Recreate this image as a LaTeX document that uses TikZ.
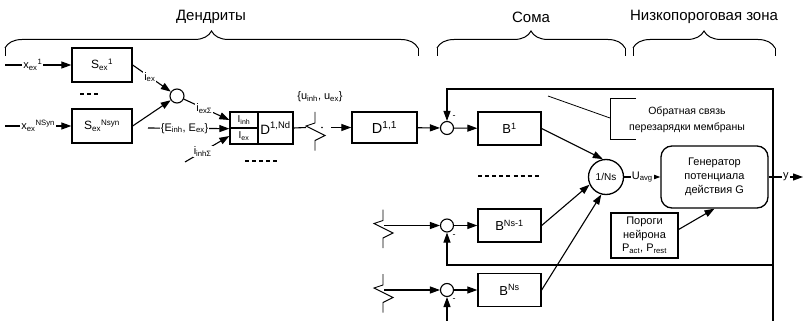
\documentclass[tikz,border=0pt]{standalone}
\usepackage{fontspec}
\setmainfont{Liberation Sans}
\usetikzlibrary{arrows.meta,decorations.pathreplacing}

\begin{document}
\begin{tikzpicture}[x=1pt, y=-1pt, line width=1.1pt,
    every node/.style={font=\fontsize{11}{13}\selectfont},
    head/.style={font=\fontsize{15}{17}\selectfont},
    blk/.style={draw, line width=1.3pt, minimum width=60pt, minimum height=34pt, inner sep=0pt},
    sum/.style={draw, circle, minimum size=13pt, inner sep=0pt},
    arr/.style={-{Triangle[length=10pt, width=7pt]}},
    lbl/.style={fill=white, inner sep=1pt},
    brk/.style={line width=0.9pt},
    dots/.style={line width=2.6pt, dash pattern=on 4pt off 3.1pt}]
    \useasboundingbox (0,0) rectangle (804,321);

    % Headings and braces
    \node[head] (hdend) at (211,17) {Дендриты};
    \node[head] (hsoma) at (531,17) {Сома};
    \node[head] (hzone) at (704,17) {Низкопороговая зона};
    \foreach \xa/\xb in {5/418, 437/625, 633/775} {
        \draw[line width=1pt] (\xa,56) -- (\xa,48);
        \draw[line width=1pt] (\xb,56) -- (\xb,48);
        \draw[line width=1pt, decorate, decoration={brace, amplitude=17pt}] (\xa,48) -- (\xb,48);
    }

    % Dendrites
    \node[blk, font=\fontsize{12}{14}\selectfont] (S1) at (102,65) {S\textsubscript{ex}\textsuperscript{1}};
    \node[blk, font=\fontsize{12}{14}\selectfont] (SN) at (102,126) {S\textsubscript{ex}\textsuperscript{Nsyn}};
    \node[sum, minimum size=14pt] (dsum) at (177,96) {};
    \node[draw, line width=1.3pt, minimum width=28pt, minimum height=16pt, inner sep=0pt,
        font=\fontsize{10}{12}\selectfont] (Iinh) at (244,120) {I\textsubscript{inh}};
    \node[draw, line width=1.3pt, minimum width=28pt, minimum height=16pt, inner sep=0pt,
        font=\fontsize{10}{12}\selectfont] (Iex) at (244,136) {I\textsubscript{ex}};
    \node[draw, line width=1.3pt, minimum width=35pt, minimum height=32pt, inner sep=0pt,
        font=\fontsize{13.5}{15}\selectfont] (D1N) at (275.5,128) {D\textsuperscript{1,Nd}};
    \node[blk, minimum width=65pt, minimum height=31pt, font=\fontsize{14.5}{16}\selectfont] (D11) at (384.5,127.5) {D\textsuperscript{1,1}};
    \node (ulbl) at (320,97) {\{u\textsubscript{inh}, u\textsubscript{ex}\}};

    \coordinate (in1) at (5,65);
    \coordinate (in2) at (5,126);
    \coordinate (inE) at (148,128);
    \coordinate (inI) at (185,162);
    \coordinate (brkA) at (306,127.5);
    \coordinate (brkB) at (331,127.5);

    \draw[arr] (in1) -- node[lbl, pos=0.42] {x\textsubscript{ex}\textsuperscript{1}} (S1);
    \draw[arr] (in2) -- node[lbl, pos=0.5] {x\textsubscript{ex}\textsuperscript{NSyn}} (SN);
    \draw[arr] (S1.east) -- node[lbl, pos=0.45] {i\textsubscript{ex}} (dsum);
    \draw[arr] (SN.east) -- (dsum);
    \draw[arr] (dsum) -- node[lbl, pos=0.45] {i\textsubscript{exΣ}} (Iinh.west);
    \draw[arr] (inE) -- node[lbl, pos=0.45] {\{E\textsubscript{inh}, E\textsubscript{ex}\}} (Iinh.south west);
    \draw[arr] (inI) -- node[lbl, pos=0.4] {i\textsubscript{inhΣ}} (Iex.west);
    \draw (D1N.east) -- (brkA);
    \fill (322,127.5) circle (0.8pt);
    \draw[arr] (brkB) -- (D11);

    \draw[dots] (80,94) -- (98,94);
    \draw[dots] (245,161) -- (279,161);

    % Break marks
    \foreach \bx/\by in {315/128, 383/225.5, 383/290} {
        \draw[brk] (\bx,\by-16) -- (\bx,\by-5) -- (\bx-9,\by-2) -- (\bx+10,\by+7.5)
            -- (\bx,\by+12.5) -- (\bx,\by+22.5);
    }

    % Soma
    \node[sum] (c1) at (447,128) {};
    \node[sum] (c2) at (447,225.5) {};
    \node[sum] (c3) at (447,290) {};
    \node[blk, minimum width=63pt, minimum height=33pt, font=\fontsize{13}{15}\selectfont] (B1) at (509.5,128.5) {B\textsuperscript{1}};
    \node[blk, minimum width=63pt, minimum height=33pt, font=\fontsize{13}{15}\selectfont] (B2) at (509.5,225.5) {B\textsuperscript{Ns-1}};
    \node[blk, minimum width=63pt, minimum height=33pt, font=\fontsize{13}{15}\selectfont] (B3) at (509.5,290) {B\textsuperscript{Ns}};
    \node[draw, circle, line width=1.3pt, minimum size=35pt, inner sep=0pt,
        font=\fontsize{10}{12}\selectfont] (ns) at (606,177) {1/Ns};
    \node[font=\fontsize{9}{10}\selectfont] (mi1) at (454,117) {-};
    \node[font=\fontsize{9}{10}\selectfont] (mi2) at (454,236) {-};
    \node[font=\fontsize{9}{10}\selectfont] (mi3) at (454,300) {-};

    \coordinate (brk2) at (384,225.5);
    \coordinate (brk3) at (384,290);
    \draw[arr] (D11) -- (c1);
    \draw[arr] (c1) -- (B1);
    \draw[arr] (brk2) -- (c2);
    \draw[arr] (c2) -- (B2);
    \draw[arr] (brk3) -- (c3);
    \draw[arr] (c3) -- (B3);
    \draw[arr] (B1.east) -- (ns.100);
    \draw[arr] (B2.east) -- (ns.205);
    \draw[arr] (B3.east) -- (ns.255);
    \draw[line width=1.6pt, dash pattern=on 4pt off 3.1pt] (478,176) -- (540,176);

    % Feedback
    \coordinate (fTop) at (773,89);
    \coordinate (fMid) at (773,265);
    \coordinate (fBot) at (773,321);
    \coordinate (fIn) at (447,321);
    \draw[arr] (fBot) -- (fTop) -| (c1);
    \draw[arr] (fMid) -| (c2);
    \draw[arr] (fIn) -- (c3);

    \node[align=center, font=\fontsize{10.5}{16}\selectfont] (fbnote) at (687,120) {Обратная связь\\перезарядки мембраны};
    \coordinate (fbPt) at (548,96);
    \coordinate (fbBr) at (610,118);
    \draw[line width=0.8pt] (fbPt) -- (fbBr);
    \draw[line width=0.8pt] (636,98) -- (610,98) -- (610,139) -- (636,139);

    % Low-threshold zone
    \node[draw, line width=1.3pt, rounded corners=11pt, minimum width=107pt, minimum height=62pt,
        align=center, font=\fontsize{11}{14}\selectfont] (gen) at (714.5,177) {Генератор\\потенциала\\действия G};
    \node[draw, line width=1.3pt, minimum width=67pt, minimum height=45pt, inner sep=1pt,
        align=center, font=\fontsize{11}{13.5}\selectfont] (thr) at (644.5,235.5) {Пороги\\нейрона\\P\textsubscript{act}, P\textsubscript{rest}};
    \coordinate (out) at (803,177);
    \draw[arr] (ns) -- node[lbl] {U\textsubscript{avg}} (gen);
    \draw[arr] (gen) -- node[lbl] {y} (out);
    \draw[arr] (thr.10) -- (gen.south);
\end{tikzpicture}
\end{document}
